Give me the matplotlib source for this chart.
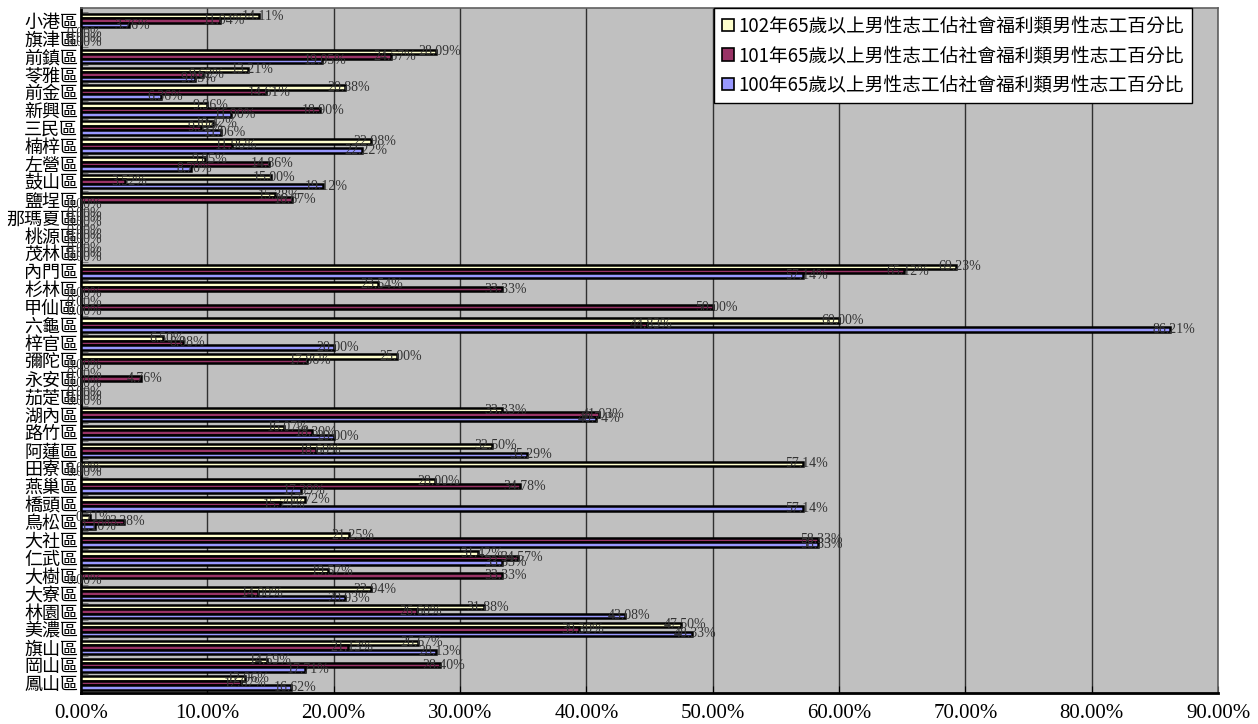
import matplotlib
matplotlib.use("Agg")
import matplotlib.pyplot as plt
from matplotlib.patches import Patch
import numpy as np

categories = ['小港區', '旗津區', '前鎮區', '苓雅區', '前金區', '新興區', '三民區', '楠梓區',
              '左營區', '鼓山區', '鹽埕區', '那瑪夏區', '桃源區', '茂林區', '內門區', '杉林區',
              '甲仙區', '六龜區', '梓官區', '彌陀區', '永安區', '茄萣區', '湖內區', '路竹區',
              '阿蓮區', '田寮區', '燕巢區', '橋頭區', '鳥松區', '大社區', '仁武區', '大樹區',
              '大寮區', '林園區', '美濃區', '旗山區', '岡山區', '鳳山區']

y102 = [14.11, 0, 28.09, 13.21, 20.88, 9.96, 10.42, 22.98, 9.85, 15.00, 15.38, 0, 0, 0,
        69.23, 23.54, 0, 60.00, 6.50, 25.00, 0, 0, 33.33, 16.07, 32.50, 57.14, 28.00, 17.72,
        0.71, 21.25, 31.42, 19.57, 22.94, 31.88, 47.50, 26.67, 14.69, 12.96]
y101 = [11.04, 0, 24.57, 9.62, 14.61, 18.90, 9.52, 11.96, 14.86, 3.52, 16.67, 0, 0, 0,
        65.12, 33.33, 50.00, 44.83, 8.08, 17.86, 4.76, 0, 41.03, 18.30, 18.60, 0, 34.78, 15.79,
        3.38, 58.33, 34.57, 33.33, 14.00, 26.60, 39.39, 21.13, 28.40, 12.67]
y100 = [3.76, 0, 19.05, 9.03, 6.36, 11.90, 11.06, 22.22, 8.70, 19.12, 0, 0, 0, 0,
        57.14, 0, 0, 86.21, 20.00, 0, 0, 0, 40.74, 20.00, 35.29, 0, 17.39, 57.14,
        1.10, 58.33, 33.33, 0, 20.93, 43.08, 48.33, 28.13, 17.71, 16.62]

series_names = ['102年65歲以上男性志工佔社會福利類男性志工百分比',
                '101年65歲以上男性志工佔社會福利類男性志工百分比',
                '100年65歲以上男性志工佔社會福利類男性志工百分比']
colors = ['#FFFFCC', '#993366', '#9999FF']
xticks = [0, 10, 20, 30, 40, 50, 60, 70, 80, 90]

W, H = 1258, 724
fig = plt.figure(figsize=(W / 100, H / 100), dpi=100)
fig.patch.set_facecolor('white')
L, R, T, B = 81, 1218, 8, 693
ax = fig.add_axes([L / W, 1 - B / H, (R - L) / W, (B - T) / H])
ax.set_facecolor('#C0C0C0')

n = len(categories)
idx = np.arange(n)
bh = 0.25
offsets = [-bh, 0, bh]
for vals, off, col in zip([y102, y101, y100], offsets, colors):
    ax.barh(idx + off, vals, height=bh, color=col, edgecolor='black', linewidth=1.8, zorder=3)
    for i, v in enumerate(vals):
        ax.text(v + 0.3, i + off, f'{v:.2f}%', ha='center', va='center', fontsize=10,
                family='Liberation Serif', color='#333333', zorder=5, clip_on=False)

ax.set_xlim(0, 90)
ax.set_ylim(n - 0.5 + 0.05, -0.5 - 0.2)
ax.set_xticks(xticks)
ax.set_xticklabels([f'{t:.2f}%' for t in xticks], family='Liberation Serif', fontsize=15)
ax.set_yticks(idx)
ax.set_yticklabels(categories, family=['Noto Sans CJK TC', 'DejaVu Sans'], fontsize=13)
ax.tick_params(axis='y', length=0, pad=2)
ax.tick_params(axis='x', direction='in', length=5, pad=8)
ax.set_yticks(idx - 0.5, minor=True)
ax.tick_params(axis='y', which='minor', direction='in', length=5, color='#666666')
ax.xaxis.grid(True, color='#303030', linewidth=1.0, zorder=0)
ax.set_axisbelow(True)
for s in ax.spines.values():
    s.set_color('#606060')
    s.set_linewidth(1.2)
ax.spines['left'].set_color('black')
ax.spines['left'].set_linewidth(2)
ax.spines['bottom'].set_color('black')
ax.spines['bottom'].set_linewidth(2)

handles = [Patch(facecolor=c, edgecolor='black', linewidth=1.2) for c in colors]
leg = ax.legend(handles, series_names, loc='upper right', bbox_to_anchor=(0.977, 1.0),
                prop={'family': ['Noto Sans CJK TC', 'DejaVu Sans'], 'size': 13.5},
                frameon=True, fancybox=False, edgecolor='black', framealpha=1,
                handlelength=0.65, handleheight=0.65, handletextpad=0.25, labelspacing=0.45,
                borderpad=0.4, borderaxespad=0)
leg.get_frame().set_linewidth(1.0)
leg.set_zorder(10)

fig.savefig('out.png', dpi=100)
